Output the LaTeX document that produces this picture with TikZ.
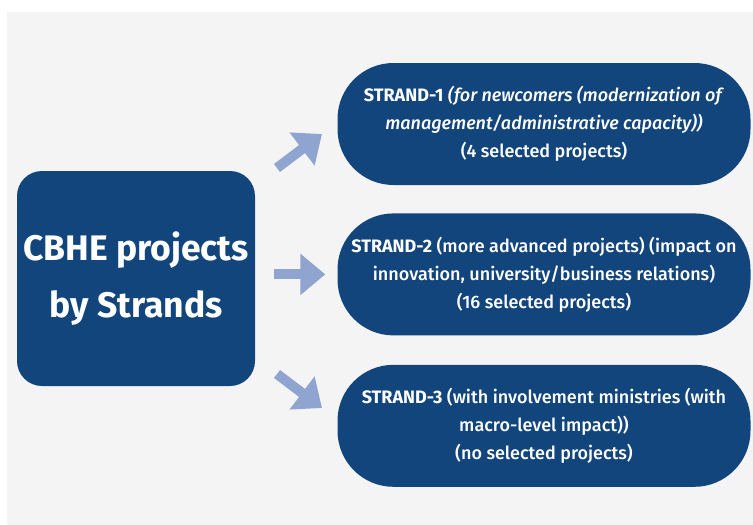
\documentclass[tikz,border=0pt]{standalone}
\usepackage{fontspec}
\setmainfont{Fira Sans}[UprightFont=* Medium, ItalicFont=* Medium Italic, BoldFont=* Bold, BoldItalicFont=* Bold Italic]
\usepackage{xcolor}
\usetikzlibrary{positioning, arrows.meta}
\definecolor{stranddark}{RGB}{19,69,125}
\definecolor{arrowblue}{RGB}{143,165,207}
\definecolor{bggray}{RGB}{244,244,244}

\begin{document}
\begin{tikzpicture}[x=1pt, y=-1pt,
    strandbox/.style={rectangle, rounded corners=56pt, fill=stranddark, text=white, minimum width=413pt, minimum height=122pt, align=center, font=\fontsize{18}{28}\selectfont},
    bigarrow/.style={draw=arrowblue, line width=10pt, -{Triangle[width=40pt, length=25pt]}}]
        \useasboundingbox (0,0) rectangle (753,525);
        \fill[bggray] (7,12) rectangle (753,525);
        \node[rectangle, rounded corners=25pt, fill=stranddark, text=white, minimum width=238pt, minimum height=215pt, align=center, font=\fontsize{35.5}{57}\selectfont\bfseries] (lbox) at (136,278.5) {CBHE projects\\by Strands};
        \node[strandbox] (s1) at (544,124) {\textbf{STRAND-1} \textit{(for newcomers (modernization of}\\\textit{management/administrative capacity))}\\(4 selected projects)};
        \node[strandbox, below=28pt of s1] (s2) {\textbf{STRAND-2} (more advanced projects) (impact on\\innovation, university/business relations)\\(16 selected projects)};
        \node[strandbox, below=29pt of s2] (s3) {\textbf{STRAND-3} (with involvement ministries (with\\macro-level impact))\\(no selected projects)};
        % Arrows between components
        \coordinate (t1) at (277,168);
        \coordinate (h1) at (322,134);
        \coordinate (t3) at (277,374);
        \coordinate (h3) at (322,408);
        \draw[bigarrow] (t1) -- (h1);
        \draw[bigarrow, shorten <=19pt, shorten >=12pt] (lbox.east |- s2.west) -- (s2.west);
        \draw[bigarrow] (t3) -- (h3);
    \end{tikzpicture}
\end{document}
